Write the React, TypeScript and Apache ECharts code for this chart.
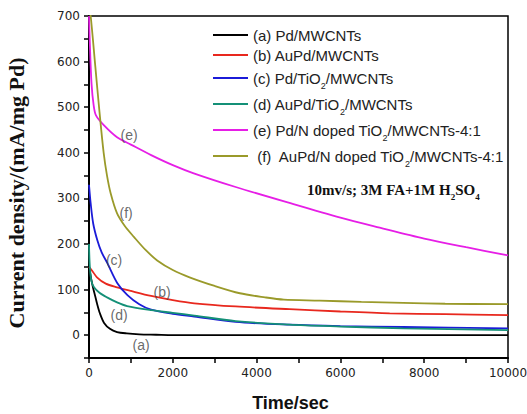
import React, { useEffect, useRef } from 'react';
import * as echarts from 'echarts';

// ---- data ----
const seriesNames = [
  '(a) Pd/MWCNTs',
  '(b) AuPd/MWCNTs',
  '(c) Pd/TiO2/MWCNTs',
  '(d) AuPd/TiO2/MWCNTs',
  '(e) Pd/N doped TiO2/MWCNTs-4:1',
  ' (f)  AuPd/N doped TiO2/MWCNTs-4:1',
];
const seriesColors = ['#000000', '#e8281e', '#1b1bd8', '#149077', '#e61ee6', '#9a9a2a'];

const timeA = [0, 30, 60, 100, 150, 190, 260, 360, 500, 670, 900, 1200, 1600, 2000, 4000, 7000, 10000];
const valA = [150, 135, 120, 103, 85, 70, 48, 27, 14, 7, 4, 2, 1, 0, 0, 0, 0];

const timeB = [0, 70, 190, 400, 670, 1000, 1483, 2000, 2512, 3500, 4785, 6000, 7177, 8500, 10000];
const valB = [150, 142, 127, 113, 105, 97, 86, 77, 70, 63, 57, 52, 48, 46, 44];

const timeC = [0, 40, 100, 199, 300, 438, 677, 917, 1200, 1483, 2000, 2512, 3500, 4785, 6000, 7500, 10000];
const valC = [330, 289, 245, 208, 182, 158, 114, 88, 68, 56, 47, 41, 29, 23, 20, 18, 15];

const timeD = [0, 20, 60, 120, 250, 430, 670, 909, 1483, 2000, 2512, 3500, 4785, 6000, 7500, 10000];
const valD = [200, 150, 118, 105, 93, 83, 72, 64, 55, 49, 43, 31, 23, 19, 15, 11];

const timeE = [0, 20, 60, 110, 167, 359, 670, 1000, 1483, 2000, 2500, 3500, 4785, 6000, 6938, 8000, 9000, 10000];
const valE = [700, 640, 552, 505, 482, 460, 434, 418, 395, 373, 355, 325, 290, 258, 236, 212, 193, 175];

const timeF = [0, 40, 150, 250, 350, 430, 520, 670, 850, 1077, 1350, 1627, 2000, 2400, 3000, 3600, 4200, 4650, 5500, 6500, 7500, 8500, 10000];
const valF = [720, 700, 590, 490, 400, 350, 310, 267, 240, 215, 187, 164, 143, 127, 108, 92, 83, 78, 76, 73, 71, 69, 68];

const seriesTimes = [timeA, timeB, timeC, timeD, timeE, timeF];
const seriesValues = [valA, valB, valC, valD, valE, valF];

const curveLabelTexts = ['(a)', '(b)', '(c)', '(d)', '(e)', '(f)'];
const curveLabelX = [1244, 1746, 598, 718, 957, 885];
const curveLabelY = [-22, 94, 164, 44, 439, 268];

const yTicks = { min: -50, max: 700, step: 50 };
const xTicks = { min: 0, max: 10000, step: 2000 };

function legendFormatter(name: string): string {
  return name.split('TiO2').join('TiO{sub|2}');
}

export default function App() {
  const ref = useRef<HTMLDivElement>(null);
  useEffect(() => {
    document.body.style.margin = '0';
    const chart = echarts.init(ref.current!, null, { renderer: 'svg' });
    const lineSeries = seriesNames.map((name, i) => ({
      name,
      type: 'line',
      data: seriesTimes[i].map((t, j) => [t, seriesValues[i][j]]),
      symbol: 'none',
      smooth: 0.3,
      lineStyle: { color: seriesColors[i], width: 1.8 },
      itemStyle: { color: seriesColors[i] },
      z: 3,
    }));
    const option: any = {
      animation: false,
      backgroundColor: '#ffffff',
      grid: {
        left: 89, right: 19, top: 16, bottom: 56,
        show: true, borderColor: '#000', borderWidth: 1.5,
        outerBoundsMode: 'none',
      },
      legend: {
        data: seriesNames,
        orient: 'vertical',
        left: 208,
        top: 21,
        icon: 'rect',
        itemWidth: 35,
        itemHeight: 2,
        itemGap: 2,
        formatter: legendFormatter,
        textStyle: {
          fontFamily: '"Liberation Sans", Arial, sans-serif',
          fontSize: 15,
          lineHeight: 18,
          color: '#222',
          rich: {
            sub: {
              fontFamily: '"Liberation Sans", Arial, sans-serif',
              fontSize: 9,
              lineHeight: 24,
              verticalAlign: 'bottom',
              color: '#222',
            },
          },
        },
      },
      xAxis: {
        type: 'value',
        min: xTicks.min,
        max: xTicks.max,
        interval: xTicks.step,
        name: 'Time/sec',
        nameLocation: 'middle',
        nameGap: 36,
        nameTextStyle: {
          fontFamily: '"Liberation Sans", Arial, sans-serif',
          fontWeight: 'bold',
          fontSize: 18,
          color: '#111',
          padding: [0, 16, 0, 0],
        },
        axisLine: { onZero: false, lineStyle: { color: '#000', width: 2 } },
        axisTick: { show: true, length: 5, lineStyle: { color: '#000', width: 1.5 } },
        minorTick: { show: true, splitNumber: 2, length: 5, lineStyle: { color: '#000', width: 1.5 } },
        axisLabel: {
          margin: 9,
          fontFamily: '"DejaVu Sans", sans-serif',
          fontSize: 12,
          color: '#222',
          formatter: (v: number) => String(v),
        },
        splitLine: { show: false },
      },
      yAxis: {
        type: 'value',
        min: yTicks.min,
        max: yTicks.max,
        interval: yTicks.step,
        name: 'Current density/(mA/mg Pd)',
        nameLocation: 'middle',
        nameGap: 62,
        nameTextStyle: {
          fontFamily: '"Liberation Serif", "Times New Roman", serif',
          fontWeight: 'bold',
          fontSize: 22,
          color: '#111',
          padding: [0, 12, 0, 0],
        },
        axisLine: { onZero: false, lineStyle: { color: '#000', width: 2 } },
        axisTick: { show: true, length: 5, lineStyle: { color: '#000', width: 1.5 } },
        axisLabel: {
          margin: 9,
          fontFamily: '"DejaVu Sans", sans-serif',
          fontSize: 12,
          color: '#222',
          formatter: (v: number) => (v % 100 === 0 ? String(v) : ''),
        },
        splitLine: { show: false },
      },
      graphic: [
        {
          type: 'text',
          x: 307,
          y: 190,
          style: {
            text: '10mv/s; 3M FA+1M H{s|2}SO{s|4}',
            font: 'bold 15px "Liberation Serif", serif',
            align: 'left',
            verticalAlign: 'middle',
            fill: '#111',
            rich: {
              s: {
                fontFamily: '"Liberation Serif", serif',
                fontWeight: 'bold',
                fontSize: 9,
                lineHeight: 22,
                verticalAlign: 'bottom',
                fill: '#111',
              },
            },
          },
        },
      ],
      series: [
        ...lineSeries,
        {
          name: 'curveLabels',
          type: 'scatter',
          symbolSize: 0,
          data: curveLabelTexts.map((t, i) => [curveLabelX[i], curveLabelY[i], t]),
          label: {
            show: true,
            position: 'inside',
            formatter: (p: any) => p.data[2],
            fontFamily: '"Liberation Sans", Arial, sans-serif',
            fontSize: 14,
            color: '#444',
          },
          z: 5,
        },
      ],
    };
    chart.setOption(option);
    return () => chart.dispose();
  }, []);
  return <div ref={ref} style={{ width: 527, height: 414 }} />;
}
